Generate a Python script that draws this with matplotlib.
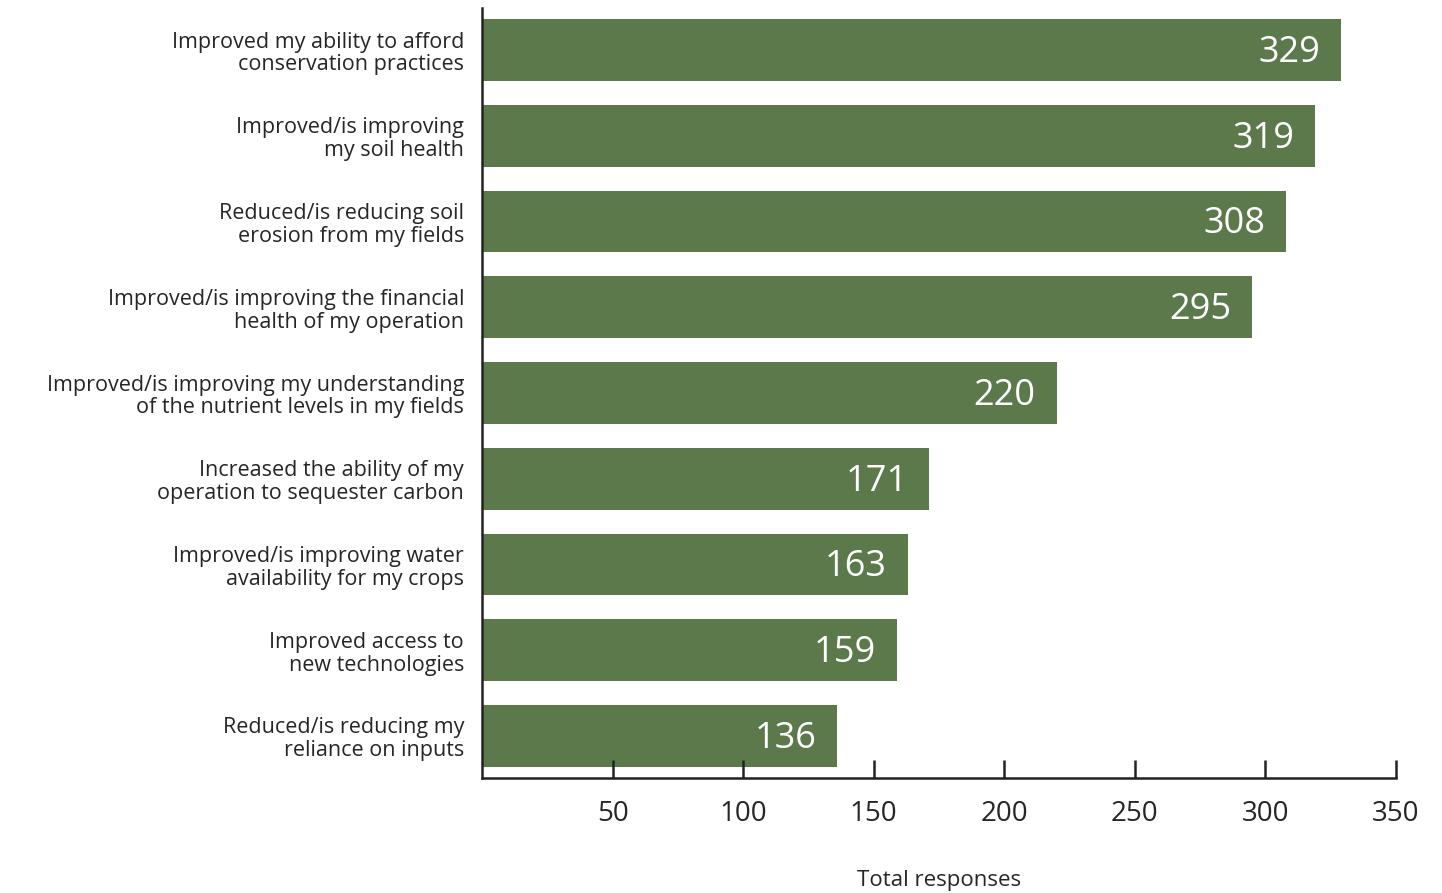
import matplotlib.pyplot as plt

categories = [
    'Improved my ability to afford\nconservation practices',
    'Improved/is improving\nmy soil health',
    'Reduced/is reducing soil\nerosion from my fields',
    'Improved/is improving the financial\nhealth of my operation',
    'Improved/is improving my understanding\nof the nutrient levels in my fields',
    'Increased the ability of my\noperation to sequester carbon',
    'Improved/is improving water\navailability for my crops',
    'Improved access to\nnew technologies',
    'Reduced/is reducing my\nreliance on inputs',
]
responses = [329, 319, 308, 295, 220, 171, 163, 159, 136]
x_ticks = [50, 100, 150, 200, 250, 300, 350]

BAR_COLOR = '#5b794b'
TEXT_COLOR = '#262626'


def main():
    plt.rcParams['font.family'] = ['Open Sans', 'DejaVu Sans']
    fig = plt.figure(figsize=(14.42, 8.93), dpi=100)
    ax = fig.add_axes([0.3343, 0.1288, 0.6338, 0.8622])

    ypos = list(range(len(categories)))
    ax.barh(ypos, responses, height=0.72, color=BAR_COLOR)

    # value labels inside the bar ends
    for y, v in zip(ypos, responses):
        ax.annotate(str(v), xy=(v, y), xytext=(-15, -2), textcoords='offset points',
                    ha='right', va='center', color='white', fontsize=26)

    ax.set_ylim(len(categories) - 0.51, -0.49)
    ax.set_xlim(0, 350)
    ax.set_yticks(ypos)
    ax.set_yticklabels(categories, fontsize=15.5, color=TEXT_COLOR, linespacing=1.12)
    ax.tick_params(axis='y', length=0, pad=13)

    ax.set_xticks(x_ticks)
    ax.set_xticklabels([str(t) for t in x_ticks], fontsize=20, color=TEXT_COLOR)
    ax.tick_params(axis='x', direction='in', length=13, width=1.8, color='#222222', pad=16)

    for side in ['top', 'right']:
        ax.spines[side].set_visible(False)
    for side in ['left', 'bottom']:
        ax.spines[side].set_linewidth(1.8)
        ax.spines[side].set_color('#222222')

    ax.set_xlabel('Total responses', fontsize=16, color=TEXT_COLOR, labelpad=30)

    fig.savefig('out.png', dpi=100)


if __name__ == '__main__':
    main()
